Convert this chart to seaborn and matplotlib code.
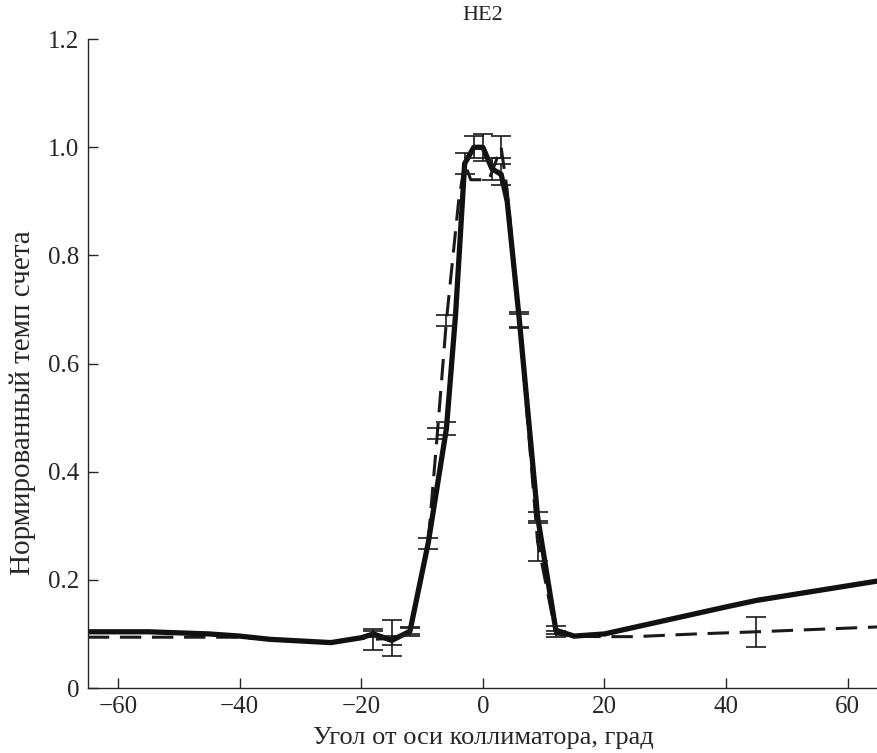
import numpy as np
import pandas as pd
import matplotlib
matplotlib.use('Agg')
import matplotlib.pyplot as plt
import seaborn as sns

# Solid curve (angle, normalized count rate, error; 0 = no error bar drawn)
solid_x = [-65, -55, -45, -40, -35, -30, -25, -20, -18, -15, -12, -9, -6, -4.5,
           -3, -1.5, 0, 1.5, 3, 4, 6, 9, 12, 15, 20, 30, 40, 45, 55, 65]
solid_y = [0.104, 0.104, 0.100, 0.096, 0.090, 0.087, 0.084, 0.093, 0.100, 0.088,
           0.105, 0.268, 0.480, 0.690, 0.970, 1.000, 1.000, 0.960, 0.950, 0.900,
           0.680, 0.317, 0.107, 0.096, 0.100, 0.125, 0.150, 0.162, 0.180, 0.198]
solid_err = [0, 0, 0, 0, 0, 0, 0, 0, 0.006, 0.008, 0.008, 0.010, 0.012, 0,
             0.020, 0.020, 0.025, 0.020, 0.020, 0, 0.015, 0.009, 0.008, 0, 0,
             0, 0, 0, 0, 0]

# Dashed curve
dash_x = [-65, -55, -45, -40, -35, -30, -25, -20, -18, -15, -12, -9, -7.5, -6,
          -4, -3, -2, 1, 2, 3, 4, 6, 9, 12, 15, 20, 25, 35, 45, 65]
dash_y = [0.094, 0.094, 0.094, 0.094, 0.090, 0.087, 0.084, 0.093, 0.090, 0.092,
          0.105, 0.270, 0.470, 0.680, 0.900, 0.970, 0.940, 0.940, 0.970, 1.000,
          0.920, 0.680, 0.270, 0.100, 0.096, 0.095, 0.095, 0.100, 0.104, 0.113]
dash_err = [0, 0, 0, 0, 0, 0, 0, 0, 0.020, 0.033, 0.006, 0, 0.010, 0.010,
            0, 0, 0, 0, 0, 0.020, 0, 0.012, 0.035, 0.006, 0, 0, 0, 0, 0.028, 0]

x_ticks = [-60, -40, -20, 0, 20, 40, 60]
y_ticks = [0, 0.2, 0.4, 0.6, 0.8, 1.0, 1.2]
y_tick_labels = ['0', '0.2', '0.4', '0.6', '0.8', '1.0', '1.2']

sns.set_style('ticks')
plt.rcParams['font.family'] = ['Liberation Serif', 'DejaVu Serif']

fig = plt.figure(figsize=(8.78, 7.53), dpi=100)
ax = fig.add_axes([0.1, 0.0863, 0.9, 0.8617])

df_solid = pd.DataFrame({'x': solid_x, 'y': solid_y, 'err': solid_err})
df_dash = pd.DataFrame({'x': dash_x, 'y': dash_y, 'err': dash_err})

sns.lineplot(data=df_dash, x='x', y='y', ax=ax, color='#1a1a1a', lw=2.2,
             dashes=False, linestyle=(0, (7, 3.5)), sort=False)
sns.lineplot(data=df_solid, x='x', y='y', ax=ax, color='#111111', lw=3.8,
             sort=False)

# error bars only where an error is given
for d in (df_dash, df_solid):
    e = d[d['err'] > 0]
    ax.errorbar(e['x'], e['y'], yerr=e['err'], fmt='none', ecolor='#1a1a1a',
                elinewidth=1.2, capsize=7, capthick=1.2)

ax.set_xlim(-65, 65)
ax.set_ylim(0, 1.2)
ax.set_xticks(x_ticks)
ax.set_xticklabels([str(t).replace('-', '\u2212') for t in x_ticks])
ax.set_yticks(y_ticks)
ax.set_yticklabels(y_tick_labels)
ax.tick_params(direction='in', length=7, width=1, labelsize=18, pad=6)

for s in ('top', 'right'):
    ax.spines[s].set_visible(False)
for s in ('left', 'bottom'):
    ax.spines[s].set_linewidth(1)

ax.set_xlabel('Угол от оси коллиматора, град', fontsize=19, labelpad=6)
ax.set_ylabel('Нормированный темп счета', fontsize=21)
ax.yaxis.set_label_coords(-0.065, 0.44)
ax.set_title('HE2', fontsize=16, pad=14)

fig.savefig('out.png', dpi=100)
